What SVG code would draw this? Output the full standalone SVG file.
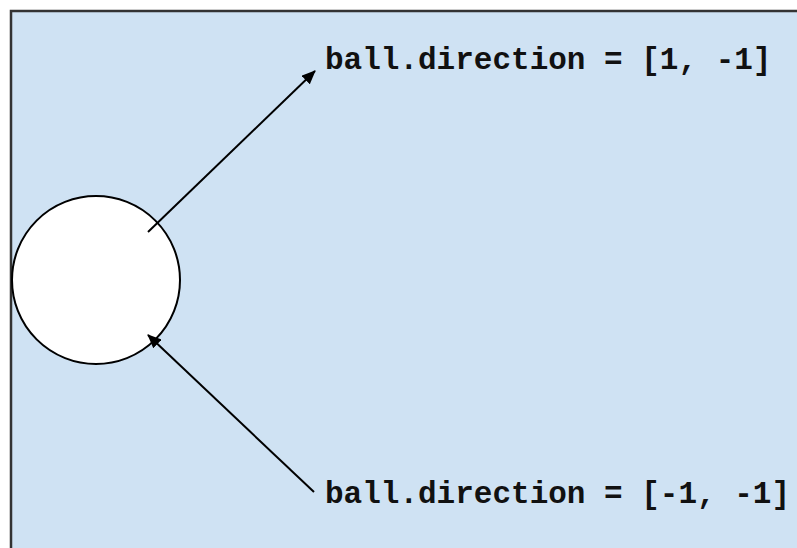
<svg xmlns="http://www.w3.org/2000/svg" width="797" height="548" viewBox="0 0 797 548">
<defs>
<marker id="ah" viewBox="0 0 14 12" refX="13" refY="6" markerWidth="14" markerHeight="12" markerUnits="userSpaceOnUse" orient="auto">
<path d="M0,0 L14,6 L0,12 z" fill="#000"/>
</marker>
<style>
.lbl{font-family:"Courier New","Nimbus Mono PS","FreeMono","Liberation Mono",monospace;font-weight:bold;font-size:31px;fill:#111}
.conn{stroke:#000;stroke-width:2;fill:none;marker-end:url(#ah)}
</style>
</defs>
<rect width="797" height="548" fill="#fff"/>
<g id="area"><rect x="11" y="11" width="800" height="560" fill="#cfe2f3" stroke="#333" stroke-width="2.5"/></g>
<g id="ball"><circle cx="96" cy="280" r="84" fill="#fff" stroke="#000" stroke-width="2"/></g>
<g id="connectors">
<line class="conn" x1="148" y1="232" x2="315" y2="71"/>
<line class="conn" x1="314" y1="492" x2="148" y2="335"/>
</g>
<g id="label1"><text class="lbl" x="325" y="69">ball.direction = [1, -1]</text></g>
<g id="label2"><text class="lbl" x="325" y="503">ball.direction = [-1, -1]</text></g>
</svg>
